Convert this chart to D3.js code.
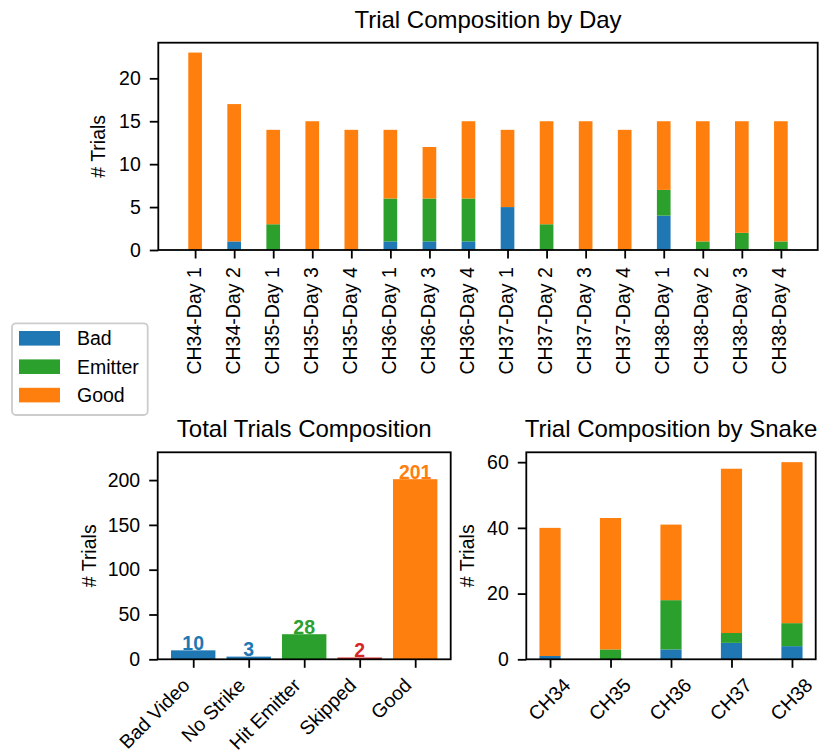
<!DOCTYPE html>
<html>
<head>
<meta charset="utf-8">
<script src="https://cdn.jsdelivr.net/npm/d3@7"></script>
<style>
  html, body { margin: 0; padding: 0; background: #fff; }
  svg { display: block; }
  text { font-family: "Liberation Sans", Arial, Helvetica, sans-serif; fill: #000; }
</style>
</head>
<body>
<svg id="chart" width="821" height="753"></svg>
<script>
// ---- Data ----
const days = ["CH34-Day 1","CH34-Day 2","CH35-Day 1","CH35-Day 3","CH35-Day 4",
              "CH36-Day 1","CH36-Day 3","CH36-Day 4","CH37-Day 1","CH37-Day 2",
              "CH37-Day 3","CH37-Day 4","CH38-Day 1","CH38-Day 2","CH38-Day 3","CH38-Day 4"];
const dayBad     = [0, 1, 0, 0, 0, 1, 1, 1, 5, 0, 0, 0, 4, 0, 0, 0];
const dayEmitter = [0, 0, 3, 0, 0, 5, 5, 5, 0, 3, 0, 0, 3, 1, 2, 1];
const dayGood    = [23,16,11,15,14, 8, 6, 9, 9,12,15,14, 8,14,13,14];

const totalCats   = ["Bad Video","No Strike","Hit Emitter","Skipped","Good"];
const totalValues = [10, 3, 28, 2, 201];
const totalColors = ["#1f77b4","#1f77b4","#2ca02c","#d62728","#ff7f0e"];

const snakes       = ["CH34","CH35","CH36","CH37","CH38"];
const snakeBad     = [1, 0, 3, 5, 4];
const snakeEmitter = [0, 3, 15, 3, 7];
const snakeGood    = [39, 40, 23, 50, 49];

const seriesKeys   = ["Bad","Emitter","Good"];
const seriesColors = {Bad: "#1f77b4", Emitter: "#2ca02c", Good: "#ff7f0e"};

const yTicksDay   = [0, 5, 10, 15, 20];
const yTicksTotal = [0, 50, 100, 150, 200];
const yTicksSnake = [0, 20, 40, 60];

// ---- Styling constants ----
const FS = 19.5, TITLE_FS = 24, SPINE = 1.8, TICK = 8.5, PAD = 9, LABEL_PAD = 8.75;
const ASC = 0.73, DESC = 0.21;   // text box used for aligning rotated labels (in em)

const svg = d3.select("#chart");

// Rotated tick labels: the rotated text box is aligned horizontally (center/right)
// to the tick position and its top edge sits at topY below the axis.
function placeRotated(texts, angle, ha, topY) {
  const rad = angle * Math.PI / 180, c = Math.cos(rad), s = Math.sin(rad);
  texts.each(function() {
    const t = d3.select(this);
    t.attr("text-anchor", "start").attr("x", 0).attr("y", 0).attr("dy", null).attr("transform", null);
    const w = this.getComputedTextLength();
    const fs = parseFloat(t.attr("font-size"));
    const a = ASC * fs, d = DESC * fs;
    const pts = [[0, -a], [w, -a], [0, d], [w, d]].map(([x, y]) => [x * c - y * s, x * s + y * c]);
    const xs = pts.map(p => p[0]), ys = pts.map(p => p[1]);
    const minX = d3.min(xs), maxX = d3.max(xs), minY = d3.min(ys);
    const tx = ha === "right" ? -maxX : -(minX + maxX) / 2;
    const ty = topY - minY;
    t.attr("transform", `translate(${tx},${ty}) rotate(${angle})`);
  });
}

function drawFrame(g, x0, x1, y0, y1) {
  g.append("rect")
    .attr("x", x0).attr("y", y0).attr("width", x1 - x0).attr("height", y1 - y0)
    .attr("fill", "none").attr("stroke", "#000").attr("stroke-width", SPINE);
}

function yAxis(g, y, ticks, left) {
  const ax = g.append("g").attr("transform", `translate(${left},0)`)
    .call(d3.axisLeft(y).tickValues(ticks).tickSize(TICK).tickSizeOuter(0).tickPadding(PAD));
  ax.select(".domain").remove();
  ax.selectAll(".tick line").attr("stroke", "#000").attr("stroke-width", SPINE);
  ax.selectAll(".tick text").attr("font-size", FS).attr("fill", "#000");
  ax.attr("font-family", null).attr("font-size", null);
}

function xAxis(g, x, ticks, labels, bottom) {
  const ax = g.append("g").attr("transform", `translate(0,${bottom})`)
    .call(d3.axisBottom(x).tickValues(ticks).tickFormat((d, i) => labels[i])
      .tickSize(TICK).tickSizeOuter(0).tickPadding(PAD));
  ax.select(".domain").remove();
  ax.selectAll(".tick line").attr("stroke", "#000").attr("stroke-width", SPINE);
  ax.selectAll(".tick text").attr("font-size", FS).attr("fill", "#000");
  ax.attr("font-family", null).attr("font-size", null);
  return ax.selectAll(".tick text");
}

function yLabel(g, cx, cy) {
  g.append("text").attr("transform", `translate(${cx},${cy}) rotate(-90)`)
    .attr("text-anchor", "middle").attr("font-size", FS).text("# Trials");
}

function title(g, cx, by, str) {
  g.append("text").attr("x", cx).attr("y", by).attr("text-anchor", "middle")
    .attr("font-size", TITLE_FS).text(str);
}

function stackedBars(g, x, y, cats, bad, emitter, good, width) {
  const rows = cats.map((c, i) => ({i, Bad: bad[i], Emitter: emitter[i], Good: good[i]}));
  const stack = d3.stack().keys(seriesKeys)(rows);
  const bw = x(width) - x(0);
  g.append("g").selectAll("g").data(stack).join("g")
    .attr("fill", d => seriesColors[d.key])
    .selectAll("rect").data(d => d).join("rect")
    .attr("x", d => x(d.data.i) - bw / 2)
    .attr("width", bw)
    .attr("y", d => y(d[1]))
    .attr("height", d => y(d[0]) - y(d[1]));
}

// ---- Top: Trial Composition by Day ----
{
  const L = 158.3, R = 817.7, T = 42.7, B = 250;
  const g = svg.append("g");
  const x = d3.scaleLinear().domain([-0.9425, 15.9425]).range([L, R]);
  const y = d3.scaleLinear().domain([0, 24.15]).range([B, T]);
  stackedBars(g, x, y, days, dayBad, dayEmitter, dayGood, 0.35);
  drawFrame(g, L, R, T, B);
  yAxis(g, y, yTicksDay, L);
  const labels = xAxis(g, x, d3.range(days.length), days, B);
  placeRotated(labels, -90, "center", TICK + LABEL_PAD);
  yLabel(g, 105, (T + B) / 2);
  title(g, (L + R) / 2, 28, "Trial Composition by Day");
}

// ---- Legend ----
{
  const g = svg.append("g");
  g.append("rect").attr("x", 12).attr("y", 323.3).attr("width", 135.7).attr("height", 91.7)
    .attr("rx", 4).attr("fill", "#fff").attr("stroke", "#cccccc").attr("stroke-width", 1.8);
  seriesKeys.forEach((k, i) => {
    const cy = 338.3 + i * 28.4;
    g.append("rect").attr("x", 19).attr("y", cy - 7.3).attr("width", 41).attr("height", 14.6)
      .attr("fill", seriesColors[k]);
    g.append("text").attr("x", 77).attr("y", cy).attr("dy", "0.35em")
      .attr("font-size", FS).text(k);
  });
}

// ---- Bottom left: Total Trials Composition ----
{
  const L = 157.7, R = 450.7, T = 452.3, B = 659.3;
  const g = svg.append("g");
  const x = d3.scaleLinear().domain([-0.64, 4.64]).range([L, R]);
  const y = d3.scaleLinear().domain([0, 231]).range([B, T]);
  const bw = x(0.8) - x(0);
  g.append("g").selectAll("rect").data(totalValues).join("rect")
    .attr("x", (d, i) => x(i) - bw / 2).attr("width", bw)
    .attr("y", d => y(d)).attr("height", d => y(0) - y(d))
    .attr("fill", (d, i) => totalColors[i]);
  g.append("g").selectAll("text").data(totalValues).join("text")
    .attr("x", (d, i) => x(i)).attr("y", d => y(d) - 0.5)
    .attr("text-anchor", "middle").attr("font-size", FS).attr("font-weight", "bold")
    .style("fill", (d, i) => totalColors[i])
    .text(d => d);
  drawFrame(g, L, R, T, B);
  yAxis(g, y, yTicksTotal, L);
  const labels = xAxis(g, x, d3.range(totalCats.length), totalCats, B);
  placeRotated(labels, -45, "right", TICK + LABEL_PAD);
  yLabel(g, 96, (T + B) / 2);
  title(g, (L + R) / 2, 437, "Total Trials Composition");
}

// ---- Bottom right: Trial Composition by Snake ----
{
  const L = 526.3, R = 815.7, T = 452.3, B = 659.3;
  const g = svg.append("g");
  const x = d3.scaleLinear().domain([-0.3925, 4.3925]).range([L, R]);
  const y = d3.scaleLinear().domain([0, 63]).range([B, T]);
  stackedBars(g, x, y, snakes, snakeBad, snakeEmitter, snakeGood, 0.35);
  drawFrame(g, L, R, T, B);
  yAxis(g, y, yTicksSnake, L);
  const labels = xAxis(g, x, d3.range(snakes.length), snakes, B);
  placeRotated(labels, -45, "center", TICK + LABEL_PAD);
  yLabel(g, 474, (T + B) / 2);
  title(g, (L + R) / 2, 437, "Trial Composition by Snake");
}
</script>
</body>
</html>
